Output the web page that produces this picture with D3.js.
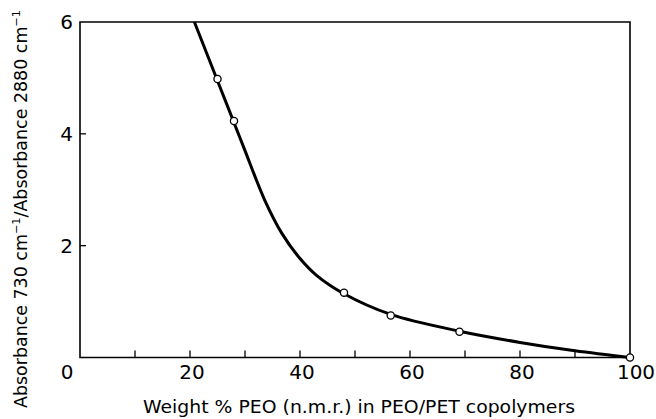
<!DOCTYPE html>
<html>
<head>
<meta charset="utf-8">
<script src="https://cdn.jsdelivr.net/npm/d3@7"></script>
<style>
  body { margin: 0; background: #fff; }
  svg text { font-family: "DejaVu Sans", sans-serif; fill: #000; }
</style>
</head>
<body>
<div id="chart"></div>
<script>
// measured points (weight % PEO, absorbance ratio)
const pointX = [25, 28, 48, 56.5, 69, 100];
const pointY = [4.98, 4.23, 1.16, 0.75, 0.46, 0];

// smooth curve drawn through the points
const curveX = [20.8, 25, 28, 30, 33.6, 36.7, 40, 43, 48, 56.5, 69, 80, 90, 100];
const curveY = [6, 4.95, 4.2, 3.7, 2.81, 2.22, 1.77, 1.47, 1.14, 0.77, 0.47, 0.27, 0.12, 0];

const xTicks = [10, 20, 30, 40, 50, 60, 70, 80, 90];
const xLabels = [0, 20, 40, 60, 80, 100];
const yTicks = [2, 4];
const yLabels = [2, 4, 6];

const width = 656, height = 419;
const plotL = 80, plotR = 630, plotT = 22, plotB = 357.5;

const svg = d3.select("#chart").append("svg")
  .attr("width", width)
  .attr("height", height);

const x = d3.scaleLinear().domain([0, 100]).range([plotL, plotR]);
const y = d3.scaleLinear().domain([0, 6]).range([plotB, plotT]);

// frame
svg.append("path")
  .attr("d", `M${plotL},${plotT}V${plotB}H${plotR}V${plotT}Z`)
  .attr("fill", "none")
  .attr("stroke", "#000")
  .attr("stroke-width", 1.6);

// x ticks point inward
svg.selectAll("line.xt")
  .data(xTicks)
  .enter().append("line")
  .attr("x1", d => x(d)).attr("x2", d => x(d))
  .attr("y1", plotB).attr("y2", plotB - 7)
  .attr("stroke", "#000").attr("stroke-width", 1.3);

svg.selectAll("line.yt")
  .data(yTicks)
  .enter().append("line")
  .attr("x1", plotL).attr("x2", plotL + 6)
  .attr("y1", d => y(d)).attr("y2", d => y(d))
  .attr("stroke", "#000").attr("stroke-width", 1.3);

// tick labels
svg.selectAll("text.xl")
  .data(xLabels)
  .enter().append("text")
  .attr("x", d => x(d) + (d === 0 ? -13 : d === 100 ? 6 : 2))
  .attr("y", 379)
  .attr("text-anchor", "middle")
  .attr("font-size", "20px")
  .text(d => d);

svg.selectAll("text.yl")
  .data(yLabels)
  .enter().append("text")
  .attr("x", 73)
  .attr("y", d => y(d) + 7)
  .attr("text-anchor", "end")
  .attr("font-size", "20px")
  .text(d => d);

// axis titles
svg.append("text")
  .attr("x", 359)
  .attr("y", 413)
  .attr("text-anchor", "middle")
  .attr("font-size", "17px")
  .attr("textLength", 432)
  .attr("lengthAdjust", "spacingAndGlyphs")
  .text("Weight % PEO (n.m.r.) in PEO/PET copolymers");

const yt = svg.append("text")
  .attr("transform", "translate(27,209) rotate(-90)")
  .attr("text-anchor", "middle")
  .attr("font-size", "17px")
  .attr("textLength", 398)
  .attr("lengthAdjust", "spacingAndGlyphs");
yt.append("tspan").text("Absorbance 730 cm");
yt.append("tspan").attr("dy", -7).attr("font-size", "11px").text("−1");
yt.append("tspan").attr("dy", 7).text("/Absorbance 2880 cm");
yt.append("tspan").attr("dy", -7).attr("font-size", "11px").text("−1");

// curve
const line = d3.line()
  .x(d => x(d[0]))
  .y(d => y(d[1]))
  .curve(d3.curveCatmullRom.alpha(0.5));

svg.append("path")
  .datum(curveX.map((v, i) => [v, curveY[i]]))
  .attr("d", line)
  .attr("fill", "none")
  .attr("stroke", "#000")
  .attr("stroke-width", 3);

svg.selectAll("circle.pt")
  .data(pointX.map((v, i) => [v, pointY[i]]))
  .enter().append("circle")
  .attr("cx", d => x(d[0]))
  .attr("cy", d => y(d[1]))
  .attr("r", 3.6)
  .attr("fill", "#fff")
  .attr("stroke", "#000")
  .attr("stroke-width", 1.3);
</script>
</body>
</html>
